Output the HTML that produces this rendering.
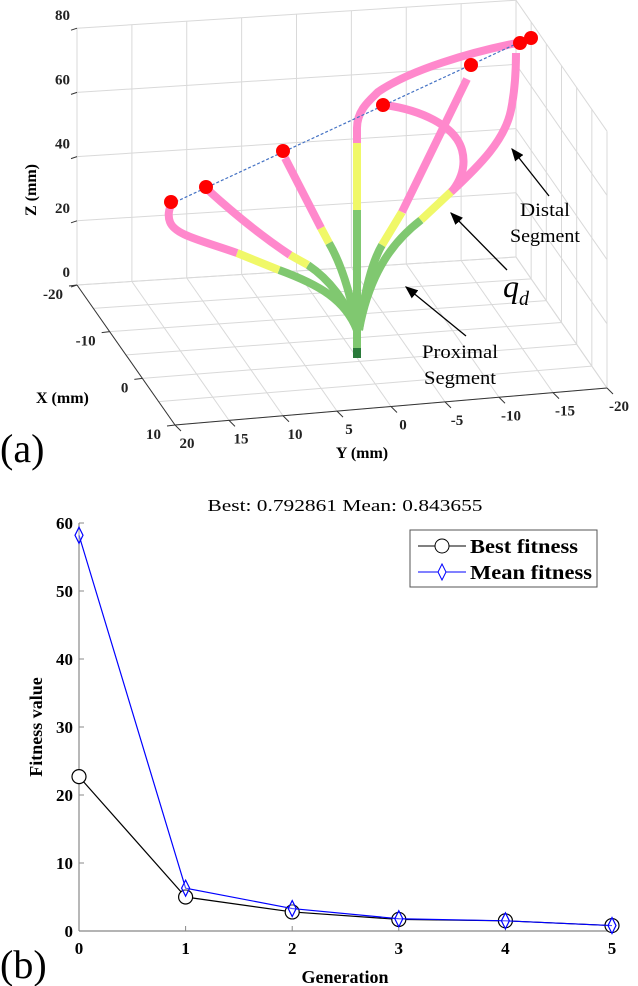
<!DOCTYPE html>
<html><head><meta charset="utf-8">
<style>
html,body{margin:0;padding:0;background:#fff;}
svg{display:block;font-family:"Liberation Serif",serif;}
</style></head>
<body>
<svg id="fig" width="638" height="986" viewBox="0 0 638 986">
<g id="plot3d">
  <g id="grid3d" stroke="#d9d9d9" stroke-width="1" fill="none"></g>
  <g id="axes3d" stroke="#333" stroke-width="1" fill="none"></g>
  <g id="tree" fill="none" stroke-width="8" stroke-linecap="butt">
    <path d="M357,330 C345,300 320,285 279,270" stroke="#80c870"/>
    <path d="M279,270 L237,253" stroke="#f0f868"/>
    <path d="M237,253 C200,240 175,235 170,222 C167,214 170,208 171,204" stroke="#ff88cc"/>
    <path d="M357,330 C345,300 330,280 308,265" stroke="#80c870"/>
    <path d="M308,265 L290,255" stroke="#f0f868"/>
    <path d="M290,255 C260,235 230,210 208,190" stroke="#ff88cc"/>
    <path d="M357,330 C350,290 340,262 329,243" stroke="#80c870"/>
    <path d="M329,243 L321,228" stroke="#f0f868"/>
    <path d="M321,228 L285,158" stroke="#ff88cc"/>
    <path d="M357,355 L357,210" stroke="#80c870"/>
    <path d="M357,210 L357,143" stroke="#f0f868"/>
    <path d="M357,143 L357,128 C357,110 370,100 378,92 C410,70 470,52 522,42" stroke="#ff88cc"/>
    <path d="M359,330 C365,290 372,262 382,245" stroke="#80c870"/>
    <path d="M382,245 L402,212" stroke="#f0f868"/>
    <path d="M402,212 L467,79" stroke="#ff88cc"/>
    <path d="M359,330 C370,270 395,240 421,220" stroke="#80c870"/>
    <path d="M421,220 L453,190" stroke="#f0f868"/>
    <path d="M453,190 C462,178 466,165 462,150 C455,125 420,110 385,105" stroke="#ff88cc"/>
    <path d="M451,192 C480,165 505,140 511,110 C515,90 516,70 516,53" stroke="#ff88cc"/>
    <path d="M357,358 L357,348" stroke="#2a7a3a"/>
  </g>
  <line x1="171" y1="204" x2="531" y2="37" stroke="#4472c4" stroke-width="1.2" stroke-dasharray="3,2"/>
  <g fill="#f00">
    <circle cx="171" cy="202" r="7"/>
    <circle cx="206" cy="187" r="7"/>
    <circle cx="283" cy="151" r="7"/>
    <circle cx="383" cy="105" r="7"/>
    <circle cx="471" cy="65" r="7"/>
    <circle cx="520" cy="43" r="7"/>
    <circle cx="531" cy="38" r="7"/>
  </g>
  <defs><marker id="ah" markerWidth="10" markerHeight="8" refX="9" refY="4" orient="auto"><path d="M0,0 L10,4 L0,8 Z" fill="#000"/></marker></defs>
  <line x1="549" y1="196" x2="512" y2="149" stroke="#000" stroke-width="1.3" marker-end="url(#ah)"/>
  <line x1="507" y1="270" x2="451" y2="213" stroke="#000" stroke-width="1.3" marker-end="url(#ah)"/>
  <line x1="466" y1="336" x2="406" y2="287" stroke="#000" stroke-width="1.3" marker-end="url(#ah)"/>
  <text x="545" y="216" font-size="19" text-anchor="middle" textLength="50" lengthAdjust="spacingAndGlyphs">Distal</text>
  <text x="545" y="242" font-size="19" text-anchor="middle" textLength="70" lengthAdjust="spacingAndGlyphs">Segment</text>
  <text x="503" y="297" font-size="32" font-style="italic">q<tspan font-size="20" dy="8">d</tspan></text>
  <text x="460" y="358" font-size="19" text-anchor="middle" textLength="76" lengthAdjust="spacingAndGlyphs">Proximal</text>
  <text x="460" y="384" font-size="19" text-anchor="middle" textLength="72" lengthAdjust="spacingAndGlyphs">Segment</text>
  <g id="ticks3d" font-size="15" font-weight="bold" fill="#222"></g>
  <text x="36" y="190" font-size="16" font-weight="bold" text-anchor="middle" transform="rotate(-90 36 190)">Z (mm)</text>
  <text x="36" y="403" font-size="16" font-weight="bold">X (mm)</text>
  <text x="362" y="458" font-size="16" font-weight="bold" text-anchor="middle">Y (mm)</text>
  <text x="0" y="462" font-size="40">(a)</text>
</g>

<g id="chart2d">
  <text x="345" y="511" font-size="17" text-anchor="middle" textLength="275" lengthAdjust="spacingAndGlyphs">Best: 0.792861 Mean: 0.843655</text>
  <g id="axes2d"></g>
  <g id="series2d"></g>
  <text x="42" y="727" font-size="18" font-weight="bold" text-anchor="middle" transform="rotate(-90 42 727)">Fitness value</text>
  <text x="345" y="983" font-size="18" font-weight="bold" text-anchor="middle">Generation</text>
  <text x="0" y="978" font-size="40">(b)</text>
  <g>
    <rect x="410" y="530" width="187" height="57" fill="#fff" stroke="#555" stroke-width="1"/>
    <line x1="418" y1="546" x2="466" y2="546" stroke="#000"/>
    <circle cx="442" cy="546" r="7" fill="#fff" stroke="#000"/>
    <text x="470" y="553" font-size="20" font-weight="bold" textLength="108" lengthAdjust="spacingAndGlyphs">Best fitness</text>
    <line x1="418" y1="572" x2="466" y2="572" stroke="#00f"/>
    <path d="M442,564 L446,572 L442,580 L438,572 Z" fill="#fff" stroke="#00f"/>
    <text x="470" y="579" font-size="20" font-weight="bold" textLength="122" lengthAdjust="spacingAndGlyphs">Mean fitness</text>
  </g>
</g>

<script>
const NS='http://www.w3.org/2000/svg';
function mk(tag,attrs,parent){const e=document.createElementNS(NS,tag);for(const k in attrs)e.setAttribute(k,attrs[k]);parent.appendChild(e);return e;}

const zTicks=[0,20,40,60,80];
const yTicks=[20,15,10,5,0,-5,-10,-15,-20];
const xTicks=[-20,-10,0,10];
function P(X,Y,Z){
  const u=(20-Y)/40, v=(X+20)/30;
  const B0=[77,285],B1=[516,257],F0=[175,425],F1=[607,388];
  const bx=B0[0]+(B1[0]-B0[0])*u, by=B0[1]+(B1[1]-B0[1])*u;
  const fx=F0[0]+(F1[0]-F0[0])*u, fy=F0[1]+(F1[1]-F0[1])*u;
  return [bx+(fx-bx)*v, by+(fy-by)*v - Z*3.21];
}
const g3=document.getElementById('grid3d');
const a3=document.getElementById('axes3d');
const t3=document.getElementById('ticks3d');
function ln(p,q,par,name){const l=mk('line',{x1:p[0],y1:p[1],x2:q[0],y2:q[1]},par);


}
zTicks.forEach(z=>{
  ln(P(-20,20,z),P(-20,-20,z),g3,'z-gridline-back');
  ln(P(-20,-20,z),P(10,-20,z),g3,'z-gridline-side');
  const p=P(-20,20,z);
  const t=mk('text',{x:p[0]-7,y:p[1]-8,'text-anchor':'end'},t3);t.textContent=z;
  
  
  ln([p[0]-6,p[1]+2],p,a3,'z-tick');
});
yTicks.forEach(y=>{
  ln(P(-20,y,0),P(10,y,0),g3,'y-gridline-floor');
  ln(P(-20,y,0),P(-20,y,80),g3,'y-gridline-back');
  const p=P(10,y,0);
  ln(p,[p[0]+6,p[1]+6],a3,'y-tick');
  const t=mk('text',{x:p[0]+12,y:p[1]+23,'text-anchor':'middle'},t3);t.textContent=y;
  
  
});
[-20,-15,-10,-5,0,5,10].forEach(x=>{
  ln(P(x,20,0),P(x,-20,0),g3,'x-gridline-floor');
  ln(P(x,-20,0),P(x,-20,80),g3,'x-gridline-side');
});
xTicks.forEach(x=>{
  const p=P(x,20,0);
  ln([p[0]-8,p[1]+1],p,a3,'x-tick');
  const t=mk('text',{x:p[0]-14,y:p[1]+14,'text-anchor':'end'},t3);t.textContent=x;
  
  
});
ln(P(-20,20,0),P(10,20,0),a3,'x-axis-line');
ln(P(10,20,0),P(10,-20,0),a3,'y-axis-line');
</script>
<script>
const generations=[0,1,2,3,4,5];
const bestFitness=[22.7,5.0,2.8,1.7,1.5,0.8];
const meanFitness=[58.2,6.3,3.3,1.8,1.5,0.8];
const yTickVals=[0,10,20,30,40,50,60];
const xTickVals=[0,1,2,3,4,5];

const X0=79,X1=612,Y0=931,Y1=523;
const sx=v=>X0+(X1-X0)*v/5;
const sy=v=>Y0-(Y0-Y1)*v/60;
const ax=document.getElementById('axes2d');
const sr=document.getElementById('series2d');
const la=mk('line',{x1:X0,y1:Y0,x2:X1+4,y2:Y0,stroke:'#888','stroke-width':1.2},ax);


const lb=mk('line',{x1:X0,y1:Y0,x2:X0,y2:Y1,stroke:'#888','stroke-width':1.2},ax);


yTickVals.forEach(v=>{
  const tk=mk('line',{x1:X0,y1:sy(v),x2:X0+5,y2:sy(v),stroke:'#888'},ax);
  
  
  const t=mk('text',{x:X0-6,y:sy(v)+6,'text-anchor':'end','font-size':17,'font-weight':'bold'},ax);t.textContent=v;
  
  
});
xTickVals.forEach(v=>{
  const tk=mk('line',{x1:sx(v),y1:Y0,x2:sx(v),y2:Y0-5,stroke:'#888'},ax);
  
  
  const t=mk('text',{x:sx(v),y:Y0+23,'text-anchor':'middle','font-size':17,'font-weight':'bold'},ax);t.textContent=v;
  
  
});
const pb=mk('polyline',{points:generations.map((g,i)=>sx(g)+','+sy(bestFitness[i])).join(' '),fill:'none',stroke:'#000','stroke-width':1.2},sr);


generations.forEach((g,i)=>{
  const c=mk('circle',{cx:sx(g),cy:sy(bestFitness[i]),r:7,fill:'#fff',stroke:'#000','stroke-width':1.2},sr);
  
  
});
const pm=mk('polyline',{points:generations.map((g,i)=>sx(g)+','+sy(meanFitness[i])).join(' '),fill:'none',stroke:'#00f','stroke-width':1.2},sr);


generations.forEach((g,i)=>{
  const x=sx(g),y=sy(meanFitness[i]);
  const d=mk('path',{d:`M${x},${y-8} L${x+4},${y} L${x},${y+8} L${x-4},${y} Z`,fill:'#fff','fill-opacity':0.3,stroke:'#00f','stroke-width':1.2},sr);
  
  
});
</script>
</svg>
</body></html>
